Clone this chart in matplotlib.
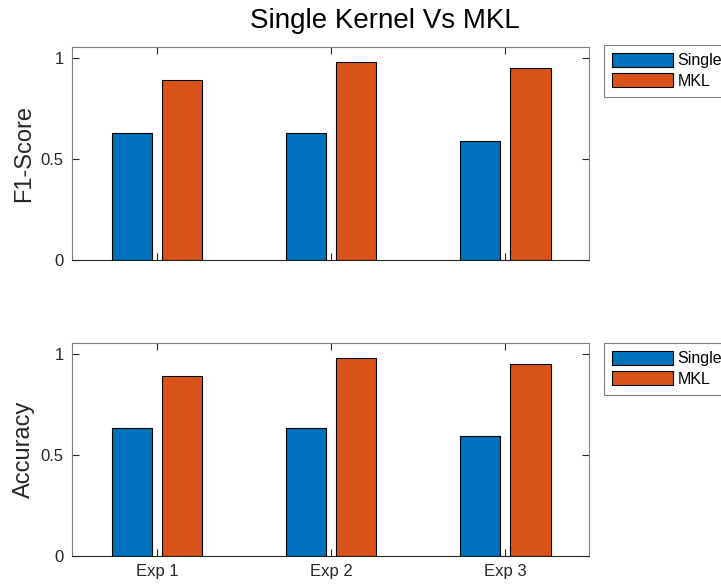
import numpy as np
import matplotlib
matplotlib.use('Agg')
import matplotlib.pyplot as plt

plt.rcParams['font.family'] = ['Liberation Sans', 'DejaVu Sans']

experiments = ['Exp 1', 'Exp 2', 'Exp 3']
f1_single = [0.63, 0.63, 0.59]
f1_mkl = [0.89, 0.98, 0.95]
acc_single = [0.63, 0.63, 0.59]
acc_mkl = [0.89, 0.98, 0.95]
series_names = ['Single', 'MKL']

blue = '#0072BD'
orange = '#D95319'
axis_gray = '#262626'

fig = plt.figure(figsize=(7.21, 5.87), dpi=100)
ax1 = fig.add_axes([72/721, 1-260/587, 517/721, 213/587])
ax2 = fig.add_axes([72/721, 1-555.5/587, 517/721, 212.5/587])

x = np.arange(1, len(experiments)+1)
w = 0.23
off = 0.144

def draw(ax, single, mkl, ylabel, show_xlabels, legend_top):
    b1 = ax.bar(x-off, single, w, color=blue, edgecolor='black', linewidth=0.8)
    b2 = ax.bar(x+off, mkl, w, color=orange, edgecolor='black', linewidth=0.8)
    ax.set_xlim(0.51, 3.48)
    ax.set_ylim(0, 1.053)
    ax.set_xticks(x)
    ax.set_yticks([0, 0.5, 1])
    ax.set_yticklabels(['0', '0.5', '1'])
    if show_xlabels:
        ax.set_xticklabels(experiments)
    else:
        ax.set_xticklabels([])
    ax.tick_params(direction='in', length=5, width=0.8, top=True, right=True,
                   labelsize=12, colors=axis_gray, pad=6)
    for s in ax.spines.values():
        s.set_color('#7f7f7f')
        s.set_linewidth(0.8)
    ax.spines['bottom'].set_color(axis_gray)
    ax.set_ylabel(ylabel, fontsize=17, color=axis_gray, labelpad=4)
    leg = ax.legend([b1, b2], series_names, loc='upper left',
                    bbox_to_anchor=(604/721, 0, 1, 1-legend_top/587),
                    bbox_transform=fig.transFigure,
                    fontsize=11.5, handlelength=3.8, handleheight=0.95,
                    handletextpad=0.3, borderpad=0.5, labelspacing=0.3,
                    borderaxespad=0, fancybox=False, framealpha=1)
    leg.get_frame().set_edgecolor('#7f7f7f')
    leg.get_frame().set_linewidth(0.8)

draw(ax1, f1_single, f1_mkl, 'F1-Score', False, 45)
draw(ax2, acc_single, acc_mkl, 'Accuracy', True, 343)

fig.text(385/721, 1-21/587, 'Single Kernel Vs MKL', ha='center', va='center',
         fontsize=20, color='black')

fig.savefig('out.png', dpi=100)
